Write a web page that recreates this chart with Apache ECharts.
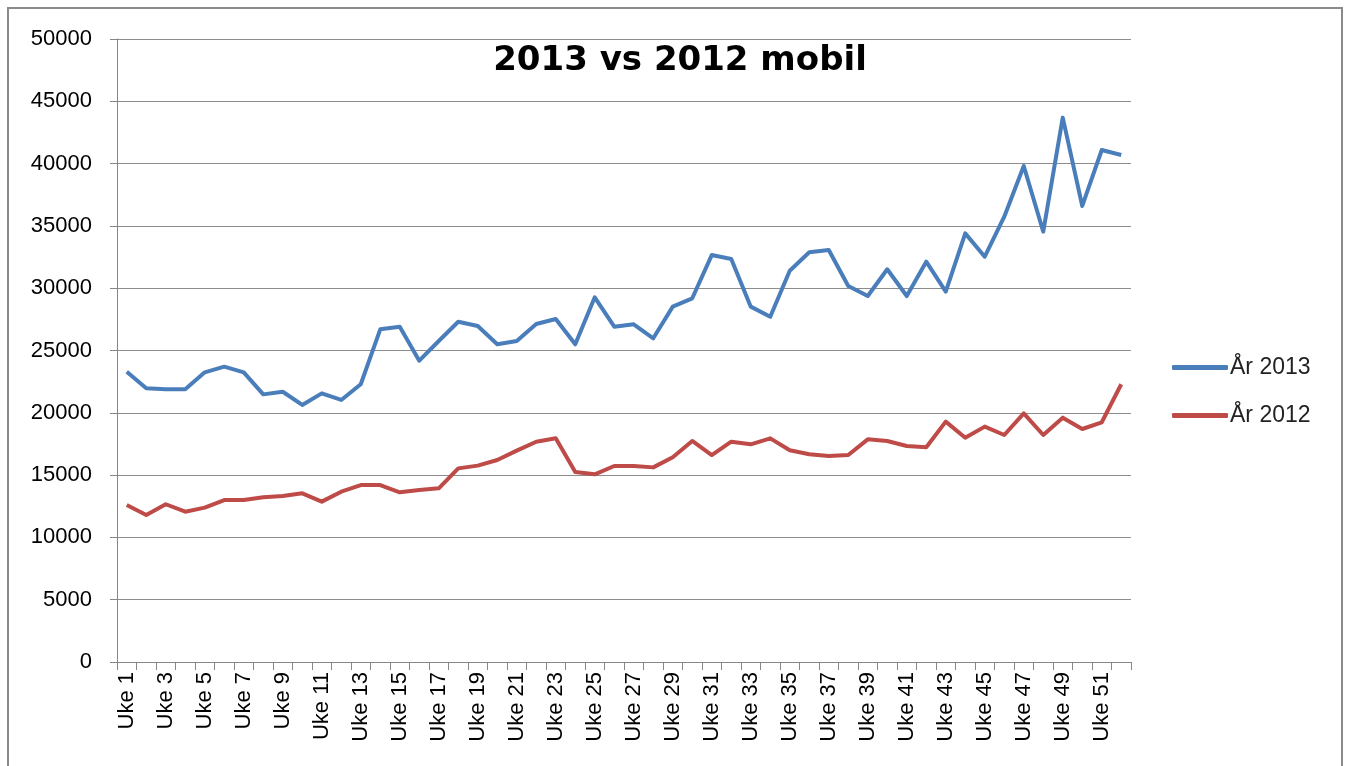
<!DOCTYPE html>
<html lang="no">
<head>
    <meta charset="UTF-8">
    <title>2013 vs 2012 mobil</title>
    <script src="https://cdn.jsdelivr.net/npm/echarts@6/dist/echarts.min.js"></script>
    <style>
        html, body { margin: 0; padding: 0; background: #fff; }
        #main { width: 1352px; height: 766px; }
    </style>
</head>
<body>
<div id="main"></div>
<script>
    // uker 1..52
    var weeks = [];
    for (var w = 1; w <= 52; w++) weeks.push('Uke ' + w);

    var yTicks = [0, 5000, 10000, 15000, 20000, 25000, 30000, 35000, 40000, 45000, 50000];

    var ar2013 = [23300, 21970, 21890, 21890, 23250, 23700, 23250, 21480, 21690, 20630,
        21560, 21030, 22290, 26700, 26910, 24180, 25760, 27310, 26970, 25500,
        25760, 27130, 27530, 25500, 29270, 26910, 27100, 25980, 28520, 29190,
        32660, 32340, 28520, 27710, 31400, 32880, 33070, 30180, 29370, 31520,
        29370, 32130, 29720, 34400, 32530, 35740, 39810, 34540, 43690, 36600,
        41090, 40690];

    var ar2012 = [12600, 11800, 12660, 12060, 12390, 13000, 13000, 13220, 13320, 13540,
        12870, 13670, 14200, 14200, 13620, 13800, 13940, 15540, 15760, 16210,
        16960, 17680, 17950, 15250, 15060, 15730, 15730, 15620, 16430, 17740,
        16610, 17680, 17470, 17950, 17000, 16670, 16530, 16610, 17870, 17740,
        17340, 17230, 19290, 18000, 18890, 18220, 19960, 18220, 19610, 18700,
        19240, 22290];

    var chart = echarts.init(document.getElementById('main'));
    var option = {
        backgroundColor: '#fff',
        animation: false,
        title: {
            text: '2013 vs 2012 mobil',
            left: 675,
            textAlign: 'center',
            top: 39,
            textStyle: { fontFamily: 'DejaVu Sans', fontSize: 34, fontWeight: 'bold', color: '#000' }
        },
        graphic: [{
            type: 'rect',
            shape: { x: 8, y: 8, width: 1334, height: 800 },
            style: { fill: 'none', stroke: '#8a8a8a', lineWidth: 2 },
            silent: true
        }],
        legend: {
            orient: 'vertical',
            left: 1172,
            top: 356,
            padding: 0,
            itemWidth: 56,
            itemHeight: 5,
            itemGap: 25,
            icon: 'roundRect',
            textStyle: { fontFamily: 'Liberation Sans', fontSize: 23, color: '#222', padding: [0, 0, 0, -3] },
            data: ['År 2013', 'År 2012']
        },
        grid: { left: 117, right: 221, top: 39, bottom: 104 },
        xAxis: {
            type: 'category',
            data: weeks,
            boundaryGap: true,
            axisLine: { lineStyle: { color: '#868686', width: 1 } },
            axisTick: { show: true, interval: 0, length: 8, lineStyle: { color: '#868686' } },
            axisLabel: {
                interval: 1,
                rotate: 90,
                margin: 10,
                fontFamily: 'Liberation Sans',
                fontSize: 22,
                color: '#000'
            },
            splitLine: { show: false }
        },
        yAxis: {
            type: 'value',
            min: yTicks[0],
            max: yTicks[yTicks.length - 1],
            interval: 5000,
            axisLine: { show: true, lineStyle: { color: '#868686', width: 1 } },
            axisTick: { show: true, length: 7, lineStyle: { color: '#868686' } },
            axisLabel: {
                margin: 25,
                fontFamily: 'Liberation Sans',
                fontSize: 22,
                color: '#000',
                formatter: function (v) { return String(v); }
            },
            splitLine: { lineStyle: { color: '#8c8c8c', width: 1 } }
        },
        series: [
            {
                name: 'År 2013',
                type: 'line',
                data: ar2013,
                symbol: 'none',
                color: '#4a7ebb',
                lineStyle: { width: 4, color: '#4a7ebb', join: 'round' }
            },
            {
                name: 'År 2012',
                type: 'line',
                data: ar2012,
                symbol: 'none',
                color: '#be4b48',
                lineStyle: { width: 4, color: '#be4b48', join: 'round' }
            }
        ]
    };
    chart.setOption(option);
</script>
</body>
</html>
